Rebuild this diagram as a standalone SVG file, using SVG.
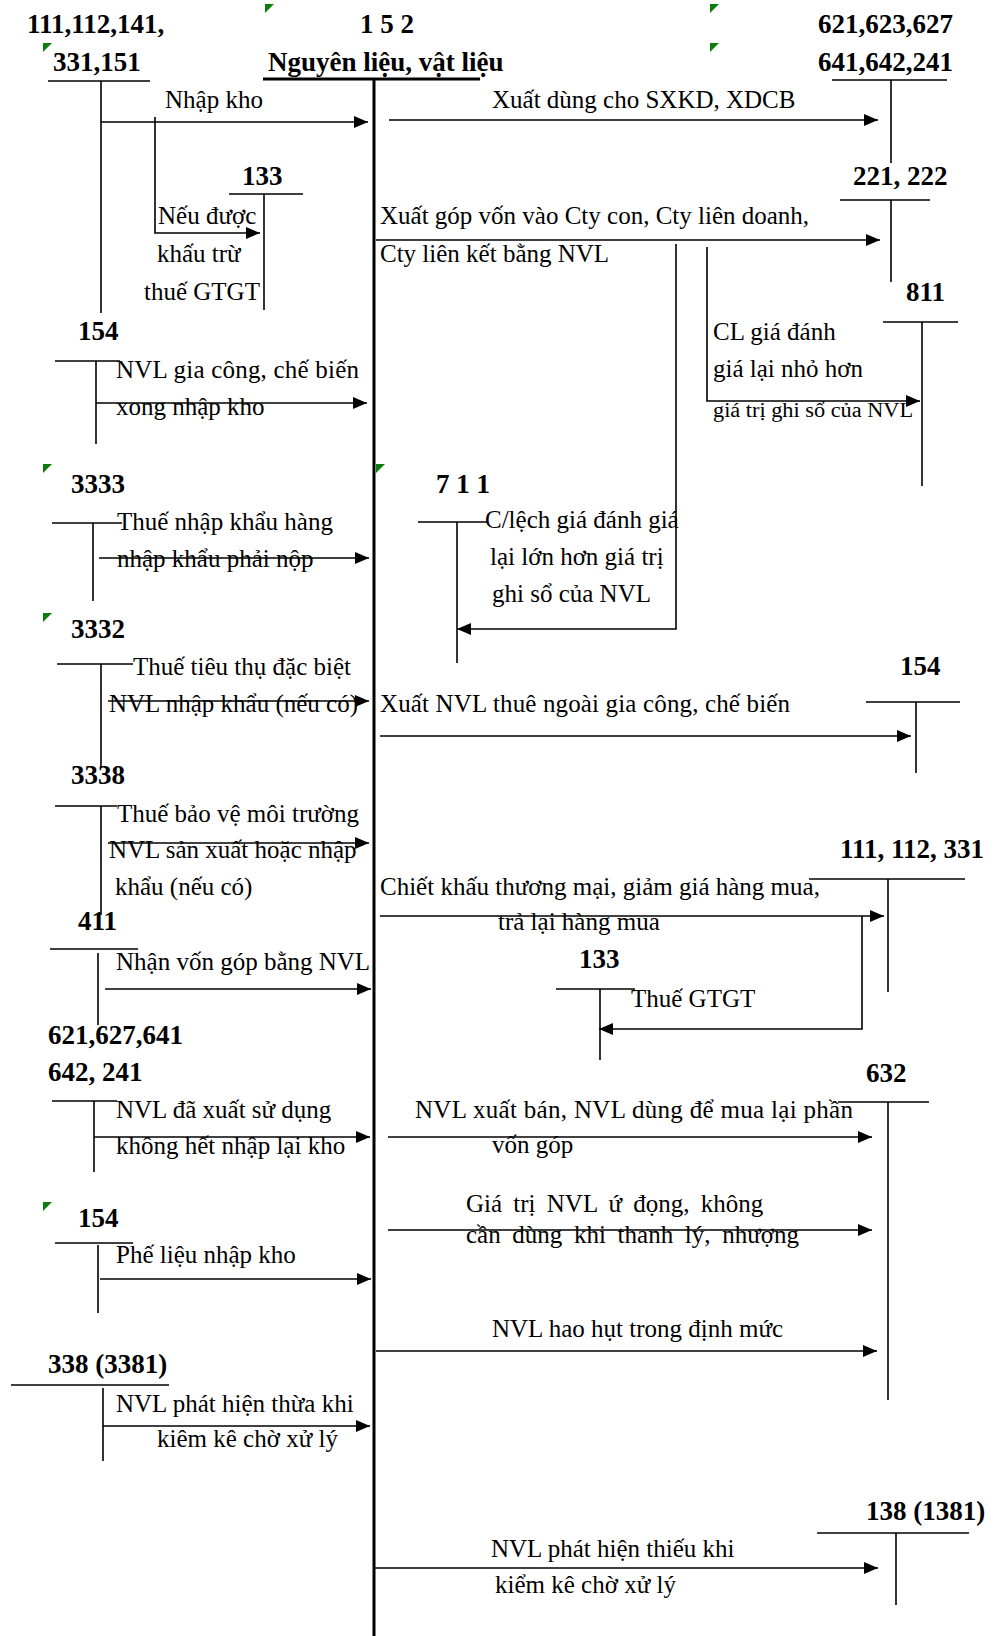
<svg xmlns="http://www.w3.org/2000/svg" width="994" height="1636" viewBox="0 0 994 1636">
<style>
text{font-family:"Liberation Serif","Times New Roman",serif;fill:#000}
.b{font-size:27px;font-weight:bold}
.r{font-size:25px}
.ln{stroke:#000;stroke-width:1.6;fill:none}
.ar{stroke:#000;stroke-width:1.6;fill:none;marker-end:url(#ah)}
.thick{stroke:#000;stroke-width:3;fill:none}
.gm{fill:#0b7d0b}
</style>
<defs>
<marker id="ah" markerUnits="userSpaceOnUse" markerWidth="15" markerHeight="13" refX="14" refY="6" orient="auto">
<path d="M0,0 L14,6 L0,12 z" fill="#000"/>
</marker>
</defs>
<rect width="994" height="1636" fill="#fff"/>

<g id="marks">
<polygon class="gm" points="265,4 274,4 265,13"/>
<polygon class="gm" points="43,43 52,43 43,52"/>
<polygon class="gm" points="710,4 719,4 710,13"/>
<polygon class="gm" points="710,43 719,43 710,52"/>
<polygon class="gm" points="43,464 52,464 43,473"/>
<polygon class="gm" points="376,464 385,464 376,473"/>
<polygon class="gm" points="43,613 52,613 43,622"/>
<polygon class="gm" points="43,1202 52,1202 43,1211"/>
</g>

<g id="acc-152">
<text class="b" x="360" y="33">1 5 2</text>
<text class="b" x="268" y="71">Nguyên liệu, vật liệu</text>
<line class="thick" x1="263" y1="79" x2="480" y2="79"/>
<line class="thick" x1="374" y1="79" x2="374" y2="1636"/>
</g>

<g id="acc-111-left">
<text class="b" x="27" y="33">111,112,141,</text>
<text class="b" x="53" y="71">331,151</text>
<line class="ln" x1="48" y1="81" x2="150" y2="81"/>
<line class="ln" x1="101" y1="81" x2="101" y2="313"/>
</g>

<g id="acc-133-top">
<text class="b" x="242" y="185">133</text>
<line class="ln" x1="229" y1="194" x2="303" y2="194"/>
<line class="ln" x1="264" y1="194" x2="264" y2="310"/>
</g>

<g id="acc-621-top">
<text class="b" x="818" y="33">621,623,627</text>
<text class="b" x="818" y="71">641,642,241</text>
<line class="ln" x1="832" y1="80" x2="947" y2="80"/>
<line class="ln" x1="891" y1="80" x2="891" y2="163"/>
</g>

<g id="acc-221">
<text class="b" x="853" y="185">221, 222</text>
<line class="ln" x1="840" y1="200" x2="930" y2="200"/>
<line class="ln" x1="891" y1="200" x2="891" y2="282"/>
</g>

<g id="acc-811">
<text class="b" x="906" y="301">811</text>
<line class="ln" x1="883" y1="322" x2="958" y2="322"/>
<line class="ln" x1="922" y1="322" x2="922" y2="486"/>
</g>

<g id="acc-154-a">
<text class="b" x="78" y="340">154</text>
<line class="ln" x1="55" y1="361" x2="120" y2="361"/>
<line class="ln" x1="96" y1="361" x2="96" y2="444"/>
</g>

<g id="acc-3333">
<text class="b" x="71" y="493">3333</text>
<line class="ln" x1="52" y1="523" x2="122" y2="523"/>
<line class="ln" x1="93" y1="523" x2="93" y2="601"/>
</g>

<g id="acc-711">
<text class="b" x="436" y="493">7 1 1</text>
<line class="ln" x1="418" y1="522" x2="488" y2="522"/>
<line class="ln" x1="457" y1="522" x2="457" y2="663"/>
</g>

<g id="acc-3332">
<text class="b" x="71" y="638">3332</text>
<line class="ln" x1="57" y1="664" x2="133" y2="664"/>
<line class="ln" x1="101" y1="664" x2="101" y2="768"/>
</g>

<g id="acc-154-b">
<text class="b" x="900" y="675">154</text>
<line class="ln" x1="866" y1="702" x2="960" y2="702"/>
<line class="ln" x1="916" y1="702" x2="916" y2="773"/>
</g>

<g id="acc-3338">
<text class="b" x="71" y="784">3338</text>
<line class="ln" x1="55" y1="806" x2="117" y2="806"/>
<line class="ln" x1="101" y1="806" x2="101" y2="915"/>
</g>

<g id="acc-111-right">
<text class="b" x="840" y="858">111, 112, 331</text>
<line class="ln" x1="809" y1="879" x2="965" y2="879"/>
<line class="ln" x1="888" y1="879" x2="888" y2="992"/>
</g>

<g id="acc-411">
<text class="b" x="78" y="930">411</text>
<line class="ln" x1="50" y1="949" x2="138" y2="949"/>
<line class="ln" x1="98" y1="953" x2="98" y2="1025"/>
</g>

<g id="acc-133-b">
<text class="b" x="579" y="968">133</text>
<line class="ln" x1="556" y1="989" x2="635" y2="989"/>
<line class="ln" x1="600" y1="989" x2="600" y2="1060"/>
</g>

<g id="acc-621-left">
<text class="b" x="48" y="1044">621,627,641</text>
<text class="b" x="48" y="1081">642, 241</text>
<line class="ln" x1="52" y1="1101" x2="117" y2="1101"/>
<line class="ln" x1="94" y1="1101" x2="94" y2="1172"/>
</g>

<g id="acc-632">
<text class="b" x="866" y="1082">632</text>
<line class="ln" x1="838" y1="1102" x2="929" y2="1102"/>
<line class="ln" x1="888" y1="1102" x2="888" y2="1400"/>
</g>

<g id="acc-154-c">
<text class="b" x="78" y="1227">154</text>
<line class="ln" x1="55" y1="1243" x2="133" y2="1243"/>
<line class="ln" x1="98" y1="1245" x2="98" y2="1313"/>
</g>

<g id="acc-338">
<text class="b" x="48" y="1373">338 (3381)</text>
<line class="ln" x1="11" y1="1385" x2="169" y2="1385"/>
<line class="ln" x1="103" y1="1388" x2="103" y2="1461"/>
</g>

<g id="acc-138">
<text class="b" x="866" y="1520">138 (1381)</text>
<line class="ln" x1="817" y1="1533" x2="969" y2="1533"/>
<line class="ln" x1="896" y1="1533" x2="896" y2="1605"/>
</g>

<g id="connectors">
<line class="ar" x1="101" y1="122" x2="368" y2="122"/>
<text class="r" x="165" y="108">Nhập kho</text>
<polyline class="ar" points="155,117 155,233 260,233"/>
<text class="r" x="158" y="224">Nếu được</text>
<text class="r" x="157" y="262">khấu trừ</text>
<text class="r" x="144" y="300">thuế GTGT</text>

<line class="ar" x1="389" y1="120" x2="878" y2="120"/>
<text class="r" x="492" y="108">Xuất dùng cho SXKD, XDCB</text>

<line class="ar" x1="376" y1="240" x2="880" y2="240"/>
<text class="r" x="380" y="224">Xuất góp vốn vào Cty con, Cty liên doanh,</text>
<text class="r" x="380" y="262">Cty liên kết bằng NVL</text>

<polyline class="ar" points="707,247 707,401 920,401"/>
<text class="r" x="713" y="340">CL giá đánh</text>
<text class="r" x="713" y="377">giá lại nhỏ hơn</text>
<text x="713" y="417" font-size="20" textLength="200" lengthAdjust="spacingAndGlyphs">giá trị ghi sổ của NVL</text>

<polyline class="ar" points="676,244 676,629 457,629"/>
<text class="r" x="485" y="528">C/lệch giá đánh giá</text>
<text class="r" x="490" y="565">lại lớn hơn giá trị</text>
<text class="r" x="492" y="602">ghi sổ của NVL</text>

<line class="ar" x1="96" y1="403" x2="367" y2="403"/>
<text class="r" x="116" y="378" textLength="243">NVL gia công, chế biến</text>
<text class="r" x="116" y="415">xong nhập kho</text>

<line class="ar" x1="99" y1="558" x2="369" y2="558"/>
<text class="r" x="117" y="530">Thuế nhập khẩu hàng</text>
<text class="r" x="117" y="567">nhập khẩu phải nộp</text>

<line class="ar" x1="108" y1="701" x2="369" y2="701"/>
<text class="r" x="133" y="675">Thuế tiêu thụ đặc biệt</text>
<text class="r" x="109" y="712">NVL nhập khẩu (nếu có)</text>

<line class="ar" x1="380" y1="736" x2="911" y2="736"/>
<text class="r" x="380" y="712" textLength="410">Xuất NVL thuê ngoài gia công, chế biến</text>

<line class="ar" x1="108" y1="843" x2="369" y2="843"/>
<text class="r" x="117" y="822">Thuế bảo vệ môi trường</text>
<text class="r" x="109" y="858">NVL sản xuất hoặc nhập</text>
<text class="r" x="115" y="895">khẩu (nếu có)</text>

<line class="ar" x1="380" y1="916" x2="884" y2="916"/>
<text class="r" x="380" y="895">Chiết khấu thương mại, giảm giá hàng mua,</text>
<text class="r" x="498" y="930">trả lại hàng mua</text>

<polyline class="ar" points="862,916 862,1029 599,1029"/>
<text class="r" x="631" y="1007">Thuế GTGT</text>

<line class="ar" x1="105" y1="989" x2="371" y2="989"/>
<text class="r" x="116" y="970">Nhận vốn góp bằng NVL</text>

<line class="ar" x1="94" y1="1137" x2="370" y2="1137"/>
<text class="r" x="116" y="1118">NVL đã xuất sử dụng</text>
<text class="r" x="116" y="1154">không hết nhập lại kho</text>

<line class="ar" x1="388" y1="1137" x2="872" y2="1137"/>
<text class="r" x="415" y="1118" textLength="438">NVL xuất bán, NVL dùng để mua lại phần</text>
<text class="r" x="492" y="1153">vốn góp</text>

<line class="ar" x1="388" y1="1230" x2="872" y2="1230"/>
<text class="r" x="466" y="1212" word-spacing="5">Giá trị NVL ứ đọng, không</text>
<text class="r" x="466" y="1243" word-spacing="5.4">cần dùng khi thanh lý, nhượng</text>

<line class="ar" x1="100" y1="1279" x2="371" y2="1279"/>
<text class="r" x="116" y="1263">Phế liệu nhập kho</text>

<line class="ar" x1="376" y1="1351" x2="877" y2="1351"/>
<text class="r" x="492" y="1337">NVL hao hụt trong định mức</text>

<line class="ar" x1="103" y1="1426" x2="370" y2="1426"/>
<text class="r" x="116" y="1412">NVL phát hiện thừa khi</text>
<text class="r" x="157" y="1447">kiêm kê chờ xử lý</text>

<line class="ar" x1="374" y1="1568" x2="878" y2="1568"/>
<text class="r" x="491" y="1557">NVL phát hiện thiếu khi</text>
<text class="r" x="495" y="1593">kiểm kê chờ xử lý</text>
</g>
</svg>
